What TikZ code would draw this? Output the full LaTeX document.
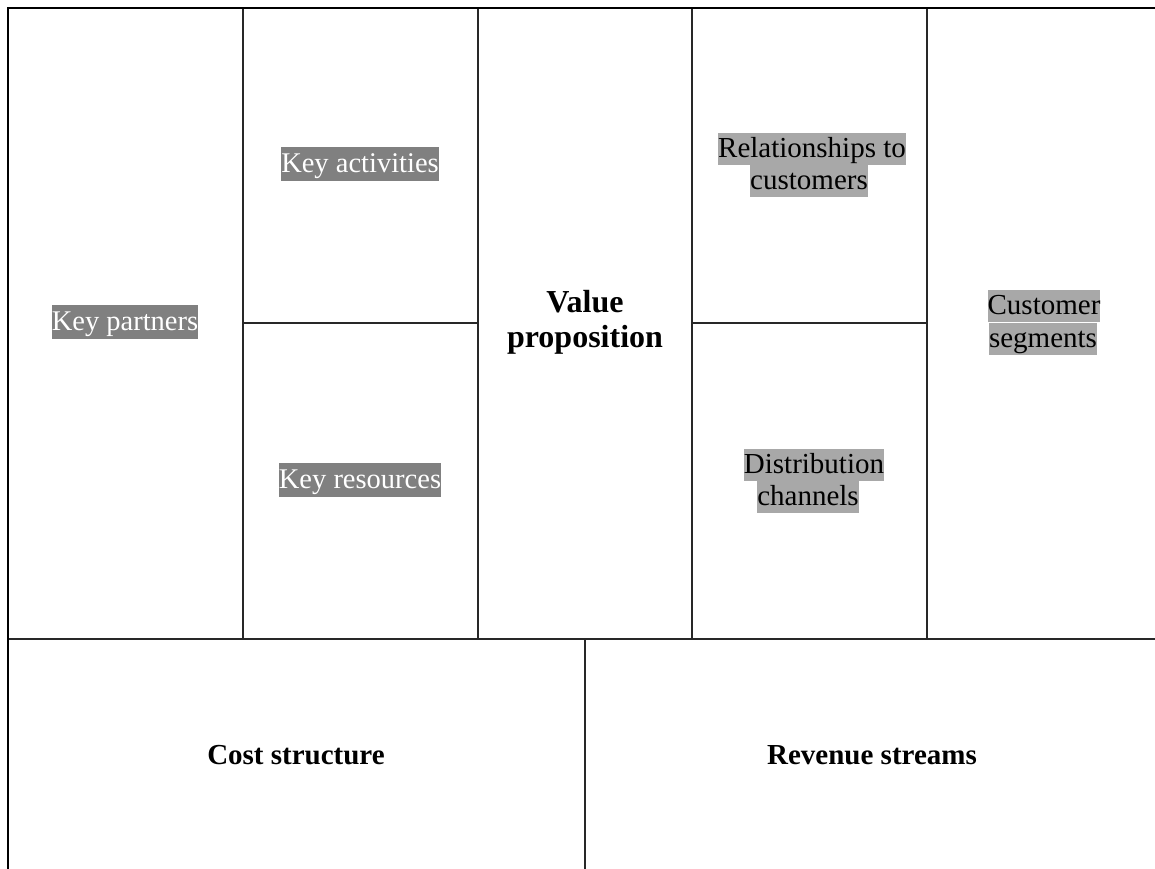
\documentclass[tikz,border=0pt]{standalone}
\usepackage{fontspec}
\setmainfont{Liberation Serif}
\definecolor{hidark}{RGB}{128,128,128}
\definecolor{hilight}{RGB}{168,168,168}
\definecolor{gridline}{RGB}{40,40,40}
\tikzset{
  darkhl/.style={fill=hidark, text=white, inner xsep=0pt, inner ysep=0pt,
    font=\fontsize{28.5}{32}\selectfont, text height=25pt, text depth=9pt},
  lighthl/.style={fill=hilight, text=black, inner xsep=0pt, inner ysep=0pt,
    font=\fontsize{29}{33}\selectfont, text height=24pt, text depth=8pt},
  boldtitle/.style={align=center, font=\bfseries\fontsize{32}{35}\selectfont},
  boldbottom/.style={font=\bfseries\fontsize{29}{33}\selectfont},
  inner/.style={draw=gridline, line width=1.1pt},
  outer/.style={draw=black, line width=2.2pt}
}
\begin{document}
\begin{tikzpicture}[x=1pt,y=-1pt]
\useasboundingbox (0,0) rectangle (1155,868);
% grid coordinates
\coordinate (tl) at (8,8);
\coordinate (tr) at (1160,8);
\coordinate (bl) at (8,870);
% inner lines
\draw[inner] (243,8) -- (243,639);
\draw[inner] (478,8) -- (478,639);
\draw[inner] (692,8) -- (692,639);
\draw[inner] (927,8) -- (927,639);
\draw[inner] (243,323) -- (478,323);
\draw[inner] (692,323) -- (927,323);
\draw[inner] (8,639) -- (1160,639);
\draw[inner] (585,639) -- (585,870);
% outer border
\draw[outer] (bl) -- (tl) -- (tr);
% texts
\node[darkhl] (kp) at (125,322) {Key partners};
\node[darkhl] (ka) at (360,164) {Key activities};
\node[darkhl] (kr) at (360,480) {Key resources};
\node[boldtitle] (vp) at (585,322) {Value\\proposition};
\node[lighthl] (rc1) at (812,149) {Relationships to\ };
\node[lighthl] (rc2) at (809,181) {customers};
\node[lighthl] (dc1) at (814,465) {Distribution\ };
\node[lighthl] (dc2) at (808,497) {channels};
\node[lighthl] (cs1) at (1044,306) {Customer};
\node[lighthl] (cs2) at (1043,339) {segments};
\node[boldbottom] (cost) at (296,755) {Cost structure};
\node[boldbottom] (rev) at (872,755) {Revenue streams};
\end{tikzpicture}
\end{document}
